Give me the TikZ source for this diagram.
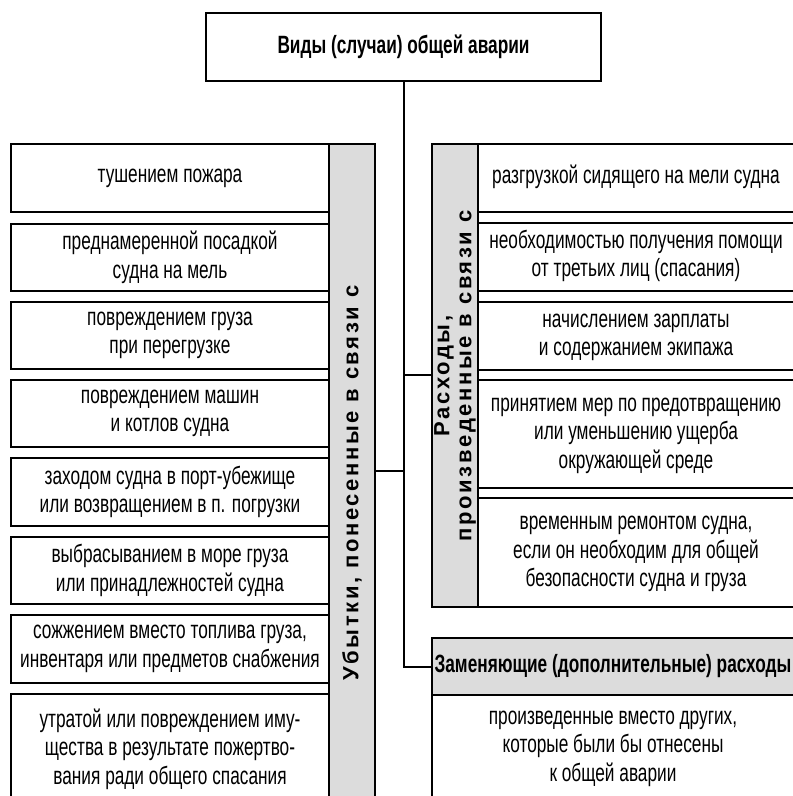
\documentclass[tikz,border=0pt]{standalone}
\usepackage{fontspec}
\setmainfont{Liberation Sans}[FakeStretch=0.69]
\newfontfamily\barfont{Liberation Sans}[LetterSpace=12]
\definecolor{bargray}{HTML}{DCDCDC}
\newcommand{\rtxt}[1]{\hspace*{-14pt}\begin{tabular}{@{}c@{}}#1\end{tabular}}
\begin{document}
\begin{tikzpicture}[x=1pt,y=-1pt,
  box/.style={draw, line width=2pt, fill=white, inner sep=0pt, anchor=north west,
    align=center, font=\fontsize{25}{28.5}\selectfont},
  hdr/.style={box, font=\fontsize{25}{28}\selectfont\bfseries},
  bar/.style={draw, line width=2pt, fill=bargray, inner sep=0pt, anchor=north west},
  bartext/.style={rotate=90, align=center, inner sep=0pt, font=\barfont\fontsize{22}{22}\selectfont\bfseries},
  conn/.style={draw, line width=2pt}]
\clip (0,0) rectangle (793,796);
\fill[white] (0,0) rectangle (793,796);
% title
\node[hdr, minimum width=395pt, minimum height=68pt] (title) at (205,12) {Виды (случаи) общей аварии};
% left group
\node[bar, minimum width=46pt, minimum height=670pt] (lbar) at (328,143) {};
\node[bartext] (ltext) at (352,483) {Убытки, понесенные в связи с};
\node[box, minimum width=318pt, minimum height=68pt] (l1) at (10,143) {тушением пожара};
\node[box, minimum width=318pt, minimum height=67pt] (l2) at (10,223) {преднамеренной посадкой\\судна на мель};
\node[box, minimum width=318pt, minimum height=67pt] (l3) at (10,301) {повреждением груза\\при перегрузке};
\node[box, minimum width=318pt, minimum height=67pt] (l4) at (10,379) {повреждением машин\\и котлов судна};
\node[box, minimum width=318pt, minimum height=68pt] (l5) at (10,457) {заходом судна в порт-убежище\\или возвращением в п. погрузки};
\node[box, minimum width=318pt, minimum height=67pt] (l6) at (10,536) {выбрасыванием в море груза\\или принадлежностей судна};
\node[box, minimum width=318pt, minimum height=68pt] (l7) at (10,614) {сожжением вместо топлива груза,\\инвентаря или предметов снабжения};
\node[box, minimum width=318pt, minimum height=110pt] (l8) at (10,693) {утратой или повреждением иму-\\щества в результате пожертво-\\вания ради общего спасания};
% right group
\node[bar, minimum width=46pt, minimum height=463pt] (rbar) at (431,143) {};
\node[bartext] (rtext) at (455,376) {Расходы,\\произведенные в связи с};
\node[box, minimum width=330pt, minimum height=68pt] (r1) at (477,143) {\rtxt{разгрузкой сидящего на мели судна}};
\node[box, minimum width=330pt, minimum height=68pt] (r2) at (477,222) {\rtxt{необходимостью получения помощи\\от третьих лиц (спасания)}};
\node[box, minimum width=330pt, minimum height=68pt] (r3) at (477,301) {\rtxt{начислением зарплаты\\и содержанием экипажа}};
\node[box, minimum width=330pt, minimum height=108pt] (r4) at (477,379) {\rtxt{принятием мер по предотвращению\\или уменьшению ущерба\\окружающей среде}};
\node[box, minimum width=330pt, minimum height=109pt] (r5) at (477,497) {\rtxt{временным ремонтом судна,\\если он необходим для общей\\безопасности судна и груза}};
% replacing expenses
\node[hdr, fill=bargray, minimum width=376pt, minimum height=57pt] (zbox) at (431,637) {\hspace*{-14pt}Заменяющие (дополнительные) расходы};
\node[box, minimum width=376pt, minimum height=104pt] (zb) at (431,694) {\rtxt{произведенные вместо других,\\которые были бы отнесены\\к общей аварии}};
% connectors
\coordinate (lj) at (374,471);
\coordinate (rj) at (431,375);
\draw[conn] (title.south) -- (title.south |- zbox.west) -- (zbox.west);
\draw[conn] (lj) -- (lj -| title.south);
\draw[conn] (rj -| title.south) -- (rj);
\end{tikzpicture}
\end{document}
